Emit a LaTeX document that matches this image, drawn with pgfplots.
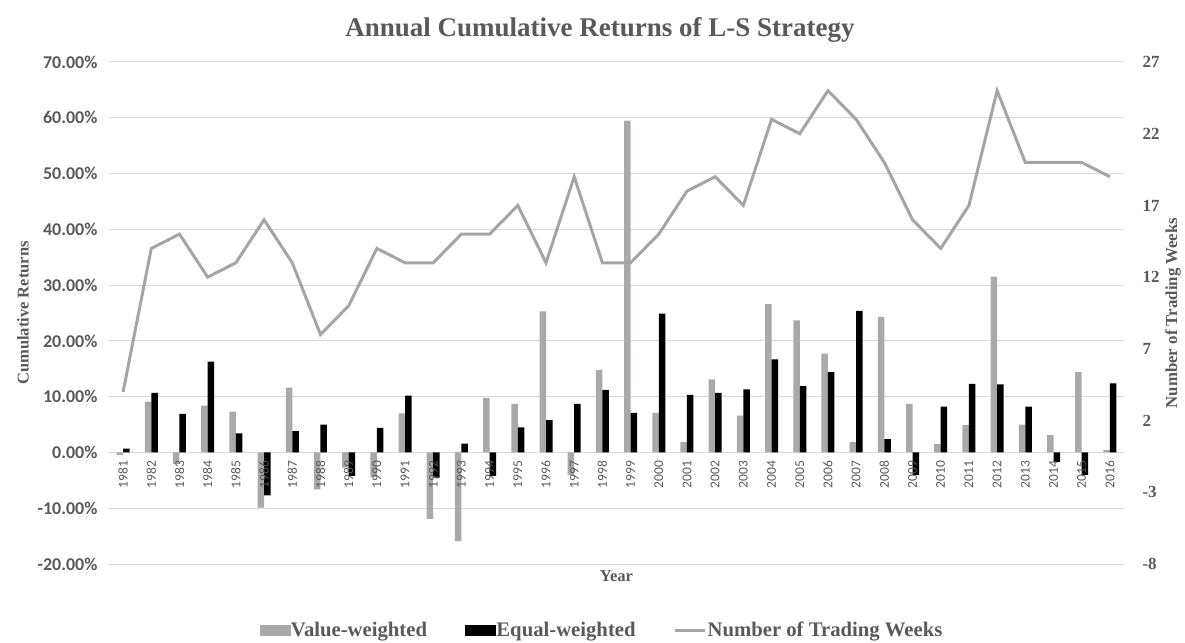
\documentclass[border=0pt]{standalone}
\usepackage{pgfplots}
\usepackage{pgfplotstable}
\pgfplotsset{compat=1.18}
\usepackage{fontspec}
\setmainfont{Liberation Serif}
\newfontfamily\calfont{Carlito}
\definecolor{txt}{HTML}{595959}
\definecolor{gridc}{HTML}{D9D9D9}
\definecolor{vw}{HTML}{AAA8A8}
\definecolor{wk}{HTML}{A5A5A5}

\pgfplotstableread{
year vw ew weeks
1981 -0.5 0.7 4
1982 9.1 10.7 14
1983 -2.1 6.9 15
1984 8.4 16.3 12
1985 7.3 3.4 13
1986 -9.9 -7.7 16
1987 11.6 3.8 13
1988 -6.6 5.0 8
1989 -2.7 -4.2 10
1990 -4.4 4.4 14
1991 7.0 10.2 13
1992 -11.9 -4.5 13
1993 -15.9 1.6 15
1994 9.8 -4.2 15
1995 8.7 4.5 17
1996 25.3 5.8 13
1997 -4.0 8.7 19
1998 14.8 11.2 13
1999 59.5 7.1 13
2000 7.1 24.9 15
2001 1.9 10.3 18
2002 13.1 10.7 19
2003 6.6 11.3 17
2004 26.6 16.7 23
2005 23.7 11.9 22
2006 17.7 14.4 25
2007 1.9 25.4 23
2008 24.3 2.4 20
2009 8.7 -4.0 16
2010 1.5 8.2 14
2011 4.9 12.3 17
2012 31.5 12.2 25
2013 5.0 8.2 20
2014 3.1 -1.7 20
2015 14.4 -4.0 20
2016 0.4 12.4 19
}\data

\begin{document}
\begin{tikzpicture}[x=1pt,y=1pt]
\path[use as bounding box] (-109,-78) rectangle (1076,564);
\node[font=\bfseries\fontsize{27}{30}\selectfont, text=txt, anchor=center] at (491,534) {Annual Cumulative Returns of L-S Strategy};
% bars, grid, left axis
\begin{axis}[
  at={(0,0)}, anchor=south west,
  scale only axis, width=1015pt, height=502pt,
  xmin=1980.5, xmax=2016.5,
  ymin=-20, ymax=70, ytick={-20,-10,...,70},
  axis x line*=middle, axis y line*=left,
  x axis line style={draw=none}, y axis line style={draw=none},
  major tick length=0pt,
  ymajorgrids, grid style={gridc, line width=1pt},
  xtick={1981,...,2016},
  xticklabel=\empty,
  yticklabel={\pgfmathprintnumber[fixed,fixed zerofill,precision=2]{\tick}\%},
  yticklabel style={font=\calfont\bfseries\fontsize{18}{20}\selectfont, text=txt, xshift=-8pt},
  /pgf/number format/assume math mode=true,
  ybar, bar width=6.5pt,
  every axis x label/.style={at={(rel axis cs:0.5,0)}, anchor=north, yshift=-3pt, font=\bfseries\fontsize{16.6}{18}\selectfont, text=txt},
  every axis y label/.style={at={(axis description cs:-0.0847,0.5)}, anchor=center, rotate=90, font=\bfseries\fontsize{16.5}{18}\selectfont, text=txt},
  xlabel={Year},
  ylabel={Cumulative Returns},
]
\addplot[fill=vw, draw=none, bar shift=-3.25pt] table[x=year, y=vw] {\data};
\addplot[fill=black, draw=none, bar shift=3.25pt] table[x=year, y=ew] {\data};
\end{axis}
% year labels on top of the bars
\begin{axis}[
  at={(0,0)}, anchor=south west,
  scale only axis, width=1015pt, height=502pt,
  xmin=1980.5, xmax=2016.5,
  ymin=-20, ymax=70,
  axis x line*=middle, axis y line=none,
  x axis line style={draw=none},
  major tick length=0pt,
  xtick={1981,...,2016},
  xticklabel={\pgfmathparse{int(round(\tick))}\pgfmathresult},
  xticklabel style={rotate=90, anchor=east, font=\calfont\fontsize{13.5}{14}\selectfont, text=txt, inner xsep=8pt, inner ysep=0pt},
]
\end{axis}
% line, right axis, legend
\begin{axis}[
  at={(0,0)}, anchor=south west,
  scale only axis, width=1015pt, height=502pt,
  xmin=1980.5, xmax=2016.5,
  ymin=-8, ymax=27, ytick={-8,-3,...,27},
  axis x line=none, axis y line*=right,
  y axis line style={draw=none},
  major tick length=0pt,
  /pgf/number format/assume math mode=true,
  yticklabel style={font=\bfseries\fontsize{17}{19}\selectfont, text=txt, anchor=west, xshift=15pt},
  every axis y label/.style={at={(axis description cs:1.0483,0.5)}, anchor=center, rotate=90, font=\bfseries\fontsize{16.8}{18}\selectfont, text=txt},
  ylabel={Number of Trading Weeks},
  legend columns=3,
  legend cell align=left,
  legend style={at={(rel axis cs:0.4852,0)}, anchor=center, yshift=-66pt, draw=none, fill=none,
    font=\bfseries\fontsize{20.7}{22}\selectfont, text=txt,
    /tikz/every even column/.append style={column sep=37pt},
    inner sep=0pt, nodes={inner xsep=1pt, inner ysep=1pt}},
]
\addlegendimage{legend image code/.code={\fill[vw] (0pt,-5pt) rectangle (30pt,5pt);}}
\addlegendentry{Value-weighted}
\addlegendimage{legend image code/.code={\fill[black] (0pt,-5pt) rectangle (30pt,5pt);}}
\addlegendentry{Equal-weighted}
\addplot[wk, line width=3pt, mark=none, line join=miter,
  legend image code/.code={\draw[wk, line width=3pt] (0pt,0pt) -- (30pt,0pt);}]
  table[x=year, y=weeks] {\data};
\addlegendentry{Number of Trading Weeks}
\end{axis}
\end{tikzpicture}
\end{document}
